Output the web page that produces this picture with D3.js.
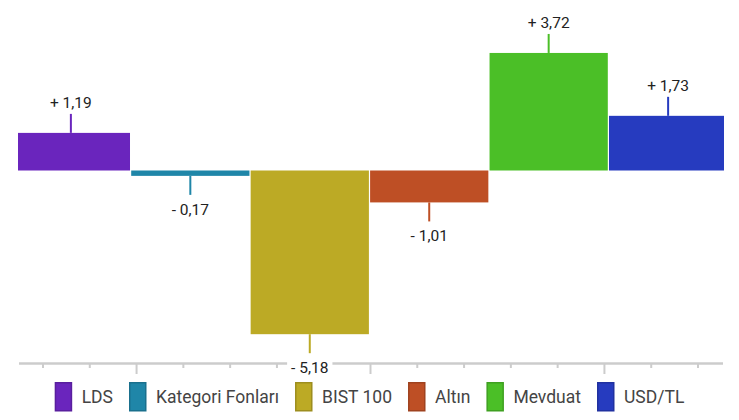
<!DOCTYPE html>
<html>
<head>
<meta charset="utf-8">
<script src="https://cdn.jsdelivr.net/npm/d3@7"></script>
<style>
  body { margin: 0; background: #fff; }
  svg { display: block; font-family: Roboto, "Noto Sans", sans-serif; }
</style>
</head>
<body>
<div id="chart"></div>
<script>
// data
var categories = ["LDS", "Kategori Fonları", "BIST 100", "Altın", "Mevduat", "USD/TL"]
var values = [1.19, -0.17, -5.18, -1.01, 3.72, 1.73]
var colors = ["#6a25bd", "#1f86a8", "#bcaa25", "#be4f25", "#4bbf27", "#263bbf"]
var axisTicks = d3.range(0, 15)   // small ticks under the bars, every 5th is long

var width = 739
var height = 420

var svg = d3.select("#chart").append("svg")
  .attr("width", width)
  .attr("height", height)

var xScale = d3.scaleBand().domain(categories).range([11.75, 727.25]).paddingInner(0.01)
var yScale = d3.scaleLinear().domain([-6, 5]).range([360.1, 12.5])
var tickScale = d3.scaleLinear().domain([0, 14]).range([43, 698])

var locale = d3.formatLocale({ decimal: ",", thousands: ".", grouping: [3], currency: ["", ""] })
var fmt = locale.format(".2f")
function label(v) { return (v >= 0 ? "+ " : "- ") + fmt(Math.abs(v)) }

// plot area clip (first and last bar are cut)
svg.append("clipPath").attr("id", "plot")
  .append("rect").attr("x", 18).attr("y", 0).attr("width", 706).attr("height", 360)

// axis line + ticks
var axis = svg.append("g").attr("class", "axis")
axis.append("line")
  .attr("x1", 19).attr("x2", 723)
  .attr("y1", 363.5).attr("y2", 363.5)
  .attr("stroke", "#cccccc").attr("stroke-width", 2.5)
axis.selectAll(".tick")
  .data(axisTicks)
  .enter().append("line")
  .attr("class", "tick")
  .attr("x1", function(d) { return tickScale(d) })
  .attr("x2", function(d) { return tickScale(d) })
  .attr("y1", 363)
  .attr("y2", function(d) { return d % 5 == 2 ? 374 : 368 })
  .attr("stroke", "#cccccc").attr("stroke-width", 2)

var rows = categories.map(function(c, i) { return { cat: c, v: values[i], color: colors[i] } })

// bars
svg.append("g").attr("clip-path", "url(#plot)")
  .selectAll(".bar")
  .data(rows)
  .enter().append("rect")
  .attr("class", "bar")
  .attr("x", function(d) { return xScale(d.cat) })
  .attr("width", xScale.bandwidth())
  .attr("y", function(d) { return yScale(Math.max(0, d.v)) })
  .attr("height", function(d) { return Math.abs(yScale(d.v) - yScale(0)) })
  .attr("fill", function(d) { return d.color })

// stems
var stem = 19
svg.selectAll(".stem")
  .data(rows)
  .enter().append("line")
  .attr("class", "stem")
  .attr("x1", function(d) { return xScale(d.cat) + xScale.bandwidth() / 2 })
  .attr("x2", function(d) { return xScale(d.cat) + xScale.bandwidth() / 2 })
  .attr("y1", function(d) { return yScale(d.v) })
  .attr("y2", function(d) { return d.v >= 0 ? yScale(d.v) - stem : yScale(d.v) + stem })
  .attr("stroke", function(d) { return d.color })
  .attr("stroke-width", 2)

// value labels with white background
var lab = svg.selectAll(".valLabel")
  .data(rows)
  .enter().append("g")
  .attr("class", "valLabel")
  .attr("transform", function(d) {
    var x = xScale(d.cat) + xScale.bandwidth() / 2
    var y = d.v >= 0 ? yScale(d.v) - 25 : yScale(d.v) + 39
    return "translate(" + x + "," + y + ")"
  })
lab.append("rect")
  .attr("fill", "#fff")
lab.append("text")
  .attr("text-anchor", "middle")
  .attr("font-size", "15.5px")
  .attr("fill", "#222")
  .text(function(d) { return label(d.v) })
lab.each(function() {
  var g = d3.select(this)
  var w = g.select("text").node().getComputedTextLength()
  g.select("rect").attr("x", -w / 2 - 4).attr("y", -13).attr("width", w + 8).attr("height", 17)
})

// legend, centered
var legend = svg.append("g").attr("class", "legend")
var items = legend.selectAll(".item")
  .data(rows)
  .enter().append("g")
  .attr("class", "item")
items.append("rect")
  .attr("x", 0.75).attr("y", 382.75)
  .attr("width", 16).attr("height", 28)
  .attr("fill", function(d) { return d.color })
  .attr("stroke", function(d) { return d3.color(d.color).darker(0.5) })
  .attr("stroke-width", 1.5)
items.append("text")
  .attr("x", 27).attr("y", 403)
  .attr("font-size", "17.5px")
  .attr("fill", "#444")
  .text(function(d) { return d.cat })

var pos = 0
items.each(function() {
  var g = d3.select(this)
  g.attr("transform", "translate(" + pos + ",0)")
  pos += 27 + g.select("text").node().getComputedTextLength() + 16
})
var total = pos - 16
legend.attr("transform", "translate(" + (width - total) / 2 + ",0)")
</script>
</body>
</html>
